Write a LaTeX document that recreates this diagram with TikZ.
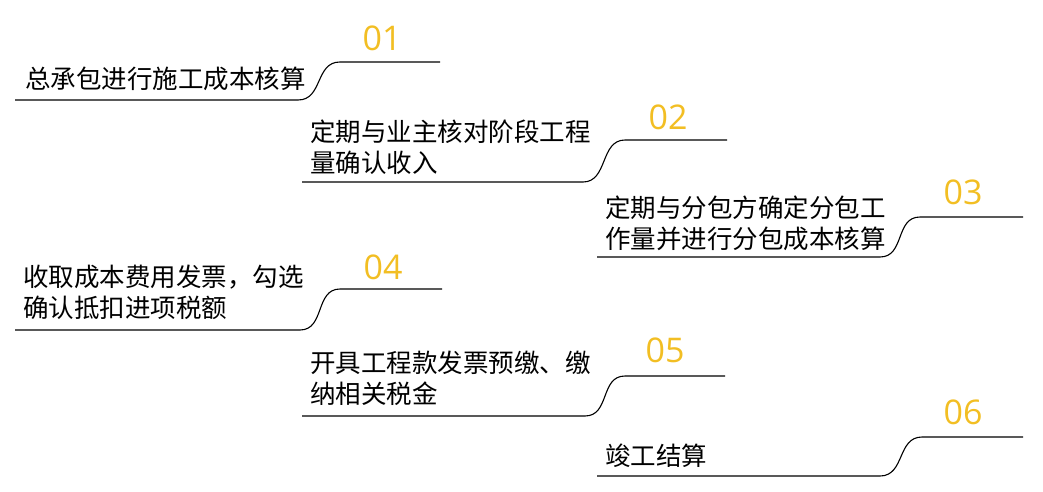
\documentclass[tikz,border=0pt]{standalone}
\usepackage{fontspec}
\newfontfamily\cjk{Noto Sans CJK SC}
\newfontfamily\numfont{Open Sans}
\definecolor{stepgold}{RGB}{242,190,35}

\begin{document}
\begin{tikzpicture}[x=1pt,y=-1pt]
\tikzset{
  steptext/.style={anchor=west,inner sep=0pt,align=left,text=black,
    font=\cjk\fontsize{25.5}{31}\selectfont},
  stepnum/.style={inner sep=0pt,text=stepgold,font=\numfont\fontsize{34}{34}\selectfont},
  stepline/.style={draw=black,line width=1.1pt}
}
\useasboundingbox (0,0) rectangle (1043,492);
% item 01
\coordinate (bl1) at (15,100);
\coordinate (bs1) at (298,100);
\coordinate (be1) at (340,62);
\coordinate (tr1) at (440,62);
\node[stepnum] (n1) at (382,38) {01};
\node[steptext] (t1) at (25,79) {总承包进行施工成本核算};
% item 02
\coordinate (bl2) at (302,182);
\coordinate (bs2) at (583,182);
\coordinate (be2) at (625,140);
\coordinate (tr2) at (727,140);
\node[stepnum] (n2) at (668,117) {02};
\node[steptext] (t2) at (310,147) {定期与业主核对阶段工程\\量确认收入};
% item 03
\coordinate (bl3) at (597,257);
\coordinate (bs3) at (880,257);
\coordinate (be3) at (920,217);
\coordinate (tr3) at (1023,217);
\node[stepnum] (n3) at (963,192) {03};
\node[steptext] (t3) at (605,223) {定期与分包方确定分包工\\作量并进行分包成本核算};
% item 04
\coordinate (bl4) at (15,330);
\coordinate (bs4) at (300,330);
\coordinate (be4) at (340,289);
\coordinate (tr4) at (442,289);
\node[stepnum] (n4) at (383,267) {04};
\node[steptext] (t4) at (23,292) {收取成本费用发票，勾选\\确认抵扣进项税额};
% item 05
\coordinate (bl5) at (302,416);
\coordinate (bs5) at (585,416);
\coordinate (be5) at (625,376);
\coordinate (tr5) at (725,376);
\node[stepnum] (n5) at (665,350) {05};
\node[steptext] (t5) at (310,378) {开具工程款发票预缴、缴\\纳相关税金};
% item 06
\coordinate (bl6) at (597,476);
\coordinate (bs6) at (880,476);
\coordinate (be6) at (922,437);
\coordinate (tr6) at (1023,437);
\node[stepnum] (n6) at (963,412) {06};
\node[steptext] (t6) at (605,456) {竣工结算};
% lines
\draw[stepline] (bl1) -- (bs1) .. controls +(25,0) and +(-25,0) .. (be1) -- (tr1);
\draw[stepline] (bl2) -- (bs2) .. controls +(25,0) and +(-25,0) .. (be2) -- (tr2);
\draw[stepline] (bl3) -- (bs3) .. controls +(25,0) and +(-25,0) .. (be3) -- (tr3);
\draw[stepline] (bl4) -- (bs4) .. controls +(25,0) and +(-25,0) .. (be4) -- (tr4);
\draw[stepline] (bl5) -- (bs5) .. controls +(25,0) and +(-25,0) .. (be5) -- (tr5);
\draw[stepline] (bl6) -- (bs6) .. controls +(25,0) and +(-25,0) .. (be6) -- (tr6);
\end{tikzpicture}
\end{document}
